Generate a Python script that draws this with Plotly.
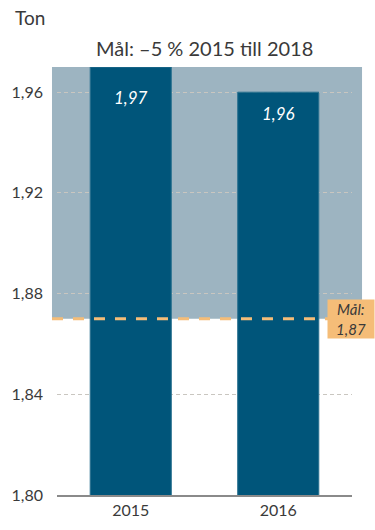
import plotly.graph_objects as go

# Data
years = ["2015", "2016"]
values = [1.97, 1.96]
target = 1.87
y_ticks = [1.80, 1.84, 1.88, 1.92, 1.96]

bar_color = "#00557a"
band_color = "#9db4c1"
target_color = "#f5bd78"
text_color = "#3a3a3a"
font_family = "Lato, Noto Sans, sans-serif"
label_shifts = [-30, -21]

fig = go.Figure()

fig.add_trace(go.Bar(
    x=years, y=values,
    marker=dict(color=bar_color, line=dict(color="#2c7290", width=1)),
    hoverinfo="none",
))

# Shaded target band from target to top of the axis
fig.add_shape(type="rect", xref="paper", yref="y",
              x0=-0.017, x1=1.034, y0=target, y1=max(values),
              fillcolor=band_color, line=dict(width=0), layer="below")

# Dashed target line
fig.add_shape(type="line", xref="paper", yref="y",
              x0=-0.017, x1=0.919, y0=target, y1=target,
              line=dict(color=target_color, width=3, dash="11px,10px"),
              layer="above")

# Value labels inside bars (x given as category index)
for i, v in enumerate(values):
    fig.add_annotation(x=i, y=v, text="<i>" + f"{v:.2f}".replace(".", ",") + "</i>",
                       showarrow=False, yshift=label_shifts[i],
                       font=dict(color="white", size=17, family=font_family))

# Target label box
fig.add_annotation(xref="paper", yref="y", x=1.0, y=target, xanchor="left",
                   text="<i>Mål:<br>" + f"{target:.2f}".replace(".", ",") + "</i>",
                   showarrow=False, align="center", bgcolor=target_color,
                   width=44, height=36, borderpad=1, xshift=-25,
                   font=dict(color=text_color, size=15, family=font_family))

fig.add_annotation(xref="paper", yref="paper", x=-0.15, y=1.1145,
                   xanchor="left", yanchor="middle", text="Ton", showarrow=False,
                   font=dict(color=text_color, size=19, family=font_family))

fig.add_annotation(xref="paper", yref="paper", x=0.5, y=1.044,
                   xanchor="center", yanchor="middle",
                   text="Mål: –5 % 2015 till 2018", showarrow=False,
                   font=dict(color=text_color, size=20, family=font_family))

fig.update_layout(
    width=375, height=530,
    margin=dict(l=57, r=23, t=67, b=35),
    paper_bgcolor="white", plot_bgcolor="white",
    separators=", ",
    bargap=0.45,
    showlegend=False,
    font=dict(family=font_family, color=text_color, size=16),
    xaxis=dict(type="category", range=[-0.5, len(years) - 0.5],
               showline=True, linecolor="#8a8a8a", linewidth=1.5,
               showgrid=False, ticks="", tickfont=dict(size=16)),
    yaxis=dict(range=[1.80, max(values)], tickvals=y_ticks, tickformat=".2f",
               showgrid=True, gridcolor="#c9c6c0", gridwidth=1, griddash="4px,3px",
               zeroline=False, ticks="", ticklabelstandoff=13,
               tickfont=dict(size=16)),
)

fig.write_html("out.html", config={"displayModeBar": False},
               post_script="document.body.style.margin='0';")
